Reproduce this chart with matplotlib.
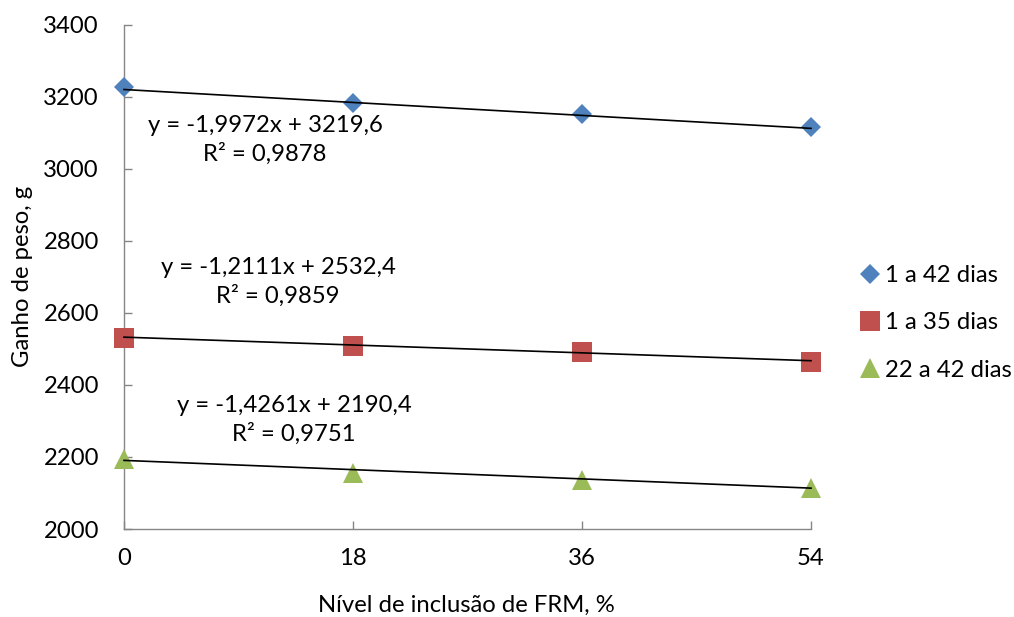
import matplotlib
matplotlib.use('Agg')
import matplotlib.pyplot as plt
import numpy as np

plt.rcParams['font.family'] = ['Lato', 'DejaVu Sans']

# dados
niveis = [0, 18, 36, 54]
ganho_42 = [3226, 3181, 3151, 3115]
ganho_35 = [2531, 2509, 2492, 2463]
ganho_22_42 = [2194, 2156, 2136, 2115]

series = ['1 a 42 dias', '1 a 35 dias', '22 a 42 dias']
# coeficientes das linhas de tendência (y = a*x + b)
coef_a = [-1.9972, -1.2111, -1.4261]
coef_b = [3219.6, 2532.4, 2190.4]
r2 = [0.9878, 0.9859, 0.9751]

y_ticks = [2000, 2200, 2400, 2600, 2800, 3000, 3200, 3400]

cores = ['#4F81BD', '#C0504D', '#9BBB59']
marcadores = ['D', 's', '^']
tam = [10.2, 14.4, 15]
FS = 17.2

fig = plt.figure(figsize=(10.14, 6.17), dpi=100)
ax = fig.add_axes([124/1014, 1 - 529/617, (811-124)/1014, (529-24.5)/617])

for vals, lab, c, m, s in zip([ganho_42, ganho_35, ganho_22_42], series, cores, marcadores, tam):
    ax.plot(niveis, vals, linestyle='none', marker=m, markersize=s, color=c,
            markeredgewidth=0, label=lab, clip_on=False, zorder=3)

x_lin = np.array([niveis[0], niveis[-1]])
for a, b in zip(coef_a, coef_b):
    ax.plot(x_lin, a * x_lin + b, color='black', linewidth=1.2, zorder=4, clip_on=False)

def fmt(v, nd):
    return f"{v:.{nd}f}".replace('.', ',')

# rótulos das equações (posição em pixels da figura)
pos_eq = [(265, 140), (278, 282), (294, 420)]
for (px, py), a, b, r in zip(pos_eq, coef_a, coef_b, r2):
    txt = f"y = {fmt(a, 4)}x + {fmt(b, 1)}\nR² = {fmt(r, 4)}"
    fig.text(px/1014, 1 - py/617, txt, ha='center', va='center', fontsize=FS,
             linespacing=1.4, multialignment='center')

ax.set_xlim(0, 54)
ax.set_ylim(2000, 3400)
ax.set_xticks(niveis)
ax.set_yticks(y_ticks)

for sp in ['top', 'right']:
    ax.spines[sp].set_visible(False)
for sp in ['left', 'bottom']:
    ax.spines[sp].set_color('#868686')
    ax.spines[sp].set_linewidth(1.0)

ax.tick_params(axis='both', direction='in', length=6, width=1.0, color='#868686',
               labelsize=FS)
ax.tick_params(axis='y', pad=18)
ax.tick_params(axis='x', pad=14)

ax.set_ylabel('Ganho de peso, g', fontsize=FS, va='center', ha='center')
ax.yaxis.set_label_coords(-0.148, 0.5)
ax.set_xlabel('Nível de inclusão de FRM, %', fontsize=FS, va='center', ha='center')
ax.xaxis.set_label_coords(0.499, -0.151)

leg = fig.legend(loc='center left', bbox_to_anchor=(858/1014, 1 - 323/617),
                 frameon=False, fontsize=FS, handlelength=1.0, handletextpad=0.15,
                 labelspacing=1.1, borderpad=0, borderaxespad=0)

fig.savefig('out.png', dpi=100)
